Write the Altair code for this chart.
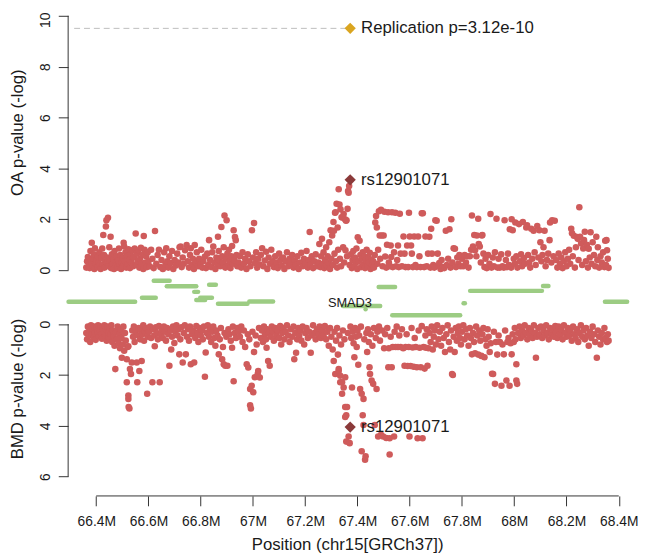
import altair as alt
import pandas as pd
import math

# ---------------- data ----------------
# OA association: (position in Mb on chr15, -log10 p)
OA_1 = [(66.362,0.10),(66.365,0.35),(66.368,0.52),(66.372,0.20),(66.375,0.08),(66.378,0.75),(66.381,0.30),(66.383,1.08),
        (66.386,0.15),(66.388,0.45),(66.391,0.62),(66.393,0.05),(66.395,0.86),(66.398,0.25),(66.401,0.40),(66.404,0.12),
        (66.406,0.55),(66.409,0.30),(66.412,0.70),(66.414,0.18),(66.417,0.05),(66.420,0.48),(66.423,0.85),(66.425,0.22),
        (66.427,1.38),(66.430,0.60),(66.432,0.10),(66.435,0.35),(66.437,1.72),(66.439,1.96),(66.441,0.28),(66.443,0.50),
        (66.445,2.06),(66.447,0.15),(66.450,0.90),(66.452,0.40),(66.455,1.31),(66.457,0.08),(66.460,0.62),(66.462,0.25),
        (66.465,0.45),(66.468,0.05),(66.470,0.75),(66.473,0.30),(66.476,0.18),(66.479,0.55),(66.481,0.10),(66.484,0.38),
        (66.487,0.85),(66.490,0.22),(66.492,0.60),(66.495,0.05),(66.498,0.30),(66.500,0.48),(66.503,0.15),(66.505,1.08),
        (66.507,0.93),(66.510,0.35),(66.512,0.70),(66.515,0.10),(66.518,0.55),(66.520,0.25),(66.523,0.82),(66.526,0.40),
        (66.529,0.08),(66.532,0.62),(66.535,0.30),(66.538,0.78),(66.541,0.15),(66.544,0.50),(66.547,0.85),(66.551,1.44),
        (66.553,0.20),(66.556,0.65),(66.559,0.35),(66.562,0.78),(66.565,0.10),(66.568,0.45),(66.571,0.88),(66.574,0.25),
        (66.577,0.60),(66.580,0.05),(66.582,1.34),(66.585,0.80),(66.588,0.30),(66.591,0.55),(66.594,0.12),(66.597,0.70)]
OA_2 = [(66.600,0.35),(66.605,0.15),(66.610,0.80),(66.615,0.45),(66.620,0.08),(66.625,1.54),(66.630,0.25),(66.635,0.60),
        (66.640,0.80),(66.645,0.12),(66.650,0.40),(66.655,0.05),(66.660,0.70),(66.665,0.22),(66.668,0.86),(66.672,0.35),
        (66.676,0.10),(66.680,0.55),(66.685,0.28),(66.690,0.75),(66.695,0.05),(66.700,0.40),(66.705,0.18),(66.710,0.65),
        (66.715,0.30),(66.719,0.90),(66.723,0.93),(66.727,0.12),(66.731,0.50),(66.735,0.25),(66.740,0.78),(66.746,0.99),
        (66.750,0.35),(66.755,0.10),(66.759,0.60),(66.762,0.86),(66.766,0.20),(66.770,0.45),(66.774,0.05),(66.777,0.99),
        (66.781,0.30),(66.785,0.70),(66.790,0.15),(66.794,0.45),(66.798,0.25),(66.802,0.80),(66.806,0.10),(66.810,0.35),
        (66.816,0.54),(66.820,0.08),(66.825,0.65),(66.829,0.20),(66.832,1.18),(66.836,0.40),(66.840,0.12),(66.844,0.70),
        (66.848,0.93),(66.852,0.30),(66.856,0.05),(66.860,0.50),(66.863,0.25),(66.866,1.31),(66.869,0.75),(66.872,0.40),
        (66.875,0.15),(66.879,1.70),(66.882,0.55),(66.885,0.30),(66.888,0.90),(66.891,2.15),(66.894,0.10),(66.897,0.45),
        (66.899,1.96),(66.902,0.65),(66.905,0.20),(66.908,0.80),(66.911,0.35),(66.914,0.08),(66.917,0.55),(66.920,0.95),
        (66.923,0.25),(66.926,1.57),(66.929,0.40),(66.931,1.30),(66.934,1.18),(66.937,0.60),(66.940,0.15)]
OA_3 = [(66.945,0.30),(66.950,0.55),(66.955,0.10),(66.960,0.70),(66.965,0.25),(66.970,0.45),(66.975,0.05),(66.980,0.62),
        (66.985,0.35),(66.990,0.15),(66.996,1.57),(67.000,0.50),(67.004,1.85),(67.008,0.28),(67.012,0.70),(67.016,0.10),
        (67.020,0.45),(67.025,0.22),(67.030,0.60),(67.035,0.86),(67.040,0.15),(67.045,0.38),(67.050,0.72),(67.055,0.05),
        (67.060,0.50),(67.065,0.25),(67.070,0.80),(67.075,0.35),(67.080,0.12),(67.085,0.55),(67.090,0.30),(67.095,0.08),
        (67.100,0.65),(67.105,0.40),(67.110,0.18),(67.115,0.50),(67.120,0.05),(67.125,0.35),(67.130,0.70),(67.135,0.15),
        (67.140,0.45),(67.145,0.25),(67.150,0.60),(67.155,0.10),(67.160,0.38),(67.165,0.20),(67.170,0.55),(67.175,0.05),
        (67.180,0.30),(67.185,0.68),(67.190,0.15),(67.195,0.45),(67.200,0.25),(67.205,0.75),(67.210,0.10),(67.214,0.40),
        (67.217,1.50),(67.220,0.20),(67.225,0.55),(67.230,0.08),(67.235,0.35),(67.240,0.62),(67.245,0.15)]
OA_4 = [(67.250,0.30),(67.254,1.03),(67.258,0.12),(67.261,0.55),(67.264,1.23),(67.267,0.25),(67.270,0.70),(67.273,0.08),
        (67.276,0.40),(67.280,0.90),(67.283,0.18),(67.286,0.55),(67.289,0.30),(67.292,1.10),(67.295,0.05),(67.297,1.57),
        (67.300,0.45),(67.303,1.36),(67.306,0.20),(67.308,1.89),(67.310,1.55),(67.312,0.65),(67.314,2.26),(67.316,2.28),
        (67.318,0.35),(67.320,2.61),(67.322,0.10),(67.324,1.68),(67.326,0.80),(67.328,3.18),(67.331,2.58),(67.333,0.45),
        (67.335,2.39),(67.337,0.15),(67.339,2.08),(67.342,2.07),(67.345,0.90),(67.347,2.21),(67.349,0.30),(67.352,2.00),
        (67.354,0.78),(67.356,1.94),(67.358,1.96),(67.360,0.55),(67.362,2.41),(67.364,3.11),(67.366,3.04),(67.368,3.31),
        (67.370,0.20),(67.375,0.62),(67.378,0.08),(67.381,0.40),(67.384,0.75),(67.387,0.15),(67.390,0.50),(67.393,0.28),
        (67.396,0.85),(67.399,0.05),(67.401,1.29),(67.404,0.35),(67.408,1.16),(67.411,0.60),(67.414,0.12),(67.417,0.45),
        (67.420,0.70),(67.423,0.22),(67.426,0.55),(67.429,0.08),(67.432,0.38),(67.435,0.80),(67.438,0.15),(67.441,0.50),
        (67.444,0.30),(67.447,0.68),(67.450,0.05),(67.453,0.42),(67.456,0.20)]
OA_5 = [(67.460,0.35),(67.463,0.10),(67.466,0.60),(67.468,1.87),(67.471,2.13),(67.474,1.68),(67.476,0.25),(67.479,0.80),
        (67.482,2.32),(67.485,1.36),(67.487,0.45),(67.490,2.37),(67.493,1.36),(67.496,0.15),(67.500,1.36),(67.503,2.30),
        (67.506,0.54),(67.510,0.10),(67.513,1.00),(67.517,2.28),(67.520,0.30),(67.524,0.15),(67.527,0.97),(67.529,0.52),
        (67.532,2.28),(67.535,0.12),(67.540,0.70),(67.545,2.26),(67.548,0.15),(67.552,0.40),(67.555,0.97),(67.558,0.12),
        (67.562,2.22),(67.565,0.65),(67.570,0.15),(67.576,1.32),(67.580,0.65),(67.584,0.12),(67.590,0.97),(67.594,0.12),
        (67.597,2.26),(67.600,1.32),(67.605,0.97),(67.608,0.65),(67.612,0.12),(67.617,1.32),(67.622,0.20),(67.627,0.12),
        (67.632,1.32),(67.637,0.55),(67.641,0.12),(67.646,2.24),(67.650,2.24),(67.655,0.12),(67.660,1.32),(67.665,0.15),
        (67.670,0.65),(67.675,1.31),(67.679,0.10),(67.682,1.63),(67.685,0.65),(67.690,0.20),(67.694,0.10),(67.698,1.96),
        (67.703,1.94),(67.707,0.65),(67.710,0.15),(67.713,0.28),(67.718,0.05),(67.722,0.40),(67.727,0.12),(67.732,0.08),
        (67.738,1.55),(67.742,0.20),(67.747,0.45),(67.752,1.61),(67.756,0.10),(67.759,2.00),(67.763,0.30),(67.768,0.86),
        (67.773,0.84),(67.777,0.12),(67.782,0.50),(67.786,0.25),(67.790,0.60),(67.795,0.15)]
OA_6 = [(67.800,0.45),(67.805,0.15),(67.810,0.60),(67.815,0.30),(67.820,0.55),(67.825,0.10),(67.830,0.55),(67.835,0.80),
        (67.838,2.15),(67.842,0.93),(67.847,1.38),(67.850,0.78),(67.855,0.55),(67.857,1.36),(67.862,2.02),(67.864,1.03),
        (67.868,0.93),(67.872,0.30),(67.876,1.36),(67.878,1.38),(67.882,0.65),(67.886,0.12),(67.890,0.45),(67.895,0.08),
        (67.900,0.60),(67.905,0.25),(67.909,2.21),(67.913,0.10),(67.918,0.50),(67.922,0.15),(67.926,0.70),(67.932,2.02),
        (67.936,0.10),(67.940,0.45),(67.945,0.10),(67.950,0.62),(67.955,0.15),(67.960,0.10),(67.963,1.96),(67.968,0.40),
        (67.972,0.12),(67.976,0.65),(67.980,0.20),(67.983,1.61),(67.988,0.10),(67.990,2.00),(67.994,1.57),(67.998,0.45),
        (68.002,0.25),(68.004,1.87),(68.008,0.55),(68.012,0.10),(68.018,1.81),(68.022,0.35),(68.026,0.62),(68.030,0.15),
        (68.033,1.89),(68.037,0.48),(68.041,0.25),(68.046,1.68),(68.049,1.76),(68.053,0.60),(68.057,0.30),(68.061,0.10),
        (68.065,1.63),(68.069,0.45),(68.074,1.55),(68.078,0.70),(68.082,0.20),(68.088,1.74),(68.092,0.50),(68.096,1.57),
        (68.100,1.10),(68.104,0.35),(68.108,0.60),(68.112,0.90),(68.116,1.55),(68.120,0.15),(68.125,0.40),(68.130,0.65),
        (68.135,1.18),(68.137,1.87),(68.142,0.30),(68.145,1.96),(68.150,0.55),(68.155,1.94)]
OA_7 = [(68.160,0.40),(68.165,0.10),(68.170,0.65),(68.175,0.25),(68.180,0.50),(68.185,0.08),(68.190,0.35),(68.195,0.70),
        (68.200,0.15),(68.205,0.45),(68.210,0.80),(68.214,0.25),(68.218,1.63),(68.221,1.45),(68.224,0.55),(68.228,1.35),
        (68.232,0.10),(68.236,0.90),(68.240,1.30),(68.243,1.23),(68.246,0.40),(68.249,2.47),(68.252,1.31),(68.256,1.05),
        (68.260,0.20),(68.264,0.85),(68.267,1.18),(68.270,1.51),(68.274,0.35),(68.278,1.00),(68.282,0.10),(68.285,0.84),
        (68.289,0.50),(68.292,1.49),(68.296,0.25),(68.300,1.10),(68.305,0.60),(68.310,0.15),(68.314,1.31),(68.318,0.40),
        (68.320,0.90),(68.325,0.10),(68.330,0.55),(68.335,0.30),(68.340,0.70),(68.345,0.12),(68.348,1.16),(68.351,0.20),
        (68.353,1.18),(68.355,0.78),(68.358,0.45),(68.361,0.09)]

# BMD association: (position in Mb, -log10 p)
BMD_1 = [(66.362,0.35),(66.365,0.60),(66.368,0.10),(66.371,0.45),(66.374,0.25),(66.377,0.70),(66.380,0.05),(66.383,0.40),
         (66.386,0.20),(66.389,0.55),(66.392,0.10),(66.395,0.35),(66.398,0.62),(66.401,0.15),(66.404,0.30),(66.407,0.05),
         (66.410,0.48),(66.413,0.22),(66.416,0.10),(66.419,0.38),(66.422,0.58),(66.425,0.12),(66.428,0.30),(66.431,0.05),
         (66.434,0.45),(66.437,0.20),(66.440,0.65),(66.443,0.10),(66.446,0.35),(66.449,0.55),(66.452,0.15),(66.455,0.40),
         (66.458,0.05),(66.461,0.70),(66.464,0.25),(66.467,0.50),(66.470,0.85),(66.473,1.77),(66.476,0.30),(66.479,0.60),
         (66.482,0.10),(66.485,0.75),(66.488,0.40),(66.491,0.95),(66.494,0.20),(66.497,0.55),(66.498,1.32),(66.501,0.80),
         (66.504,0.10),(66.507,1.05),(66.510,0.35),(66.513,0.65),(66.517,1.38),(66.517,2.29),(66.520,0.90),(66.523,0.87),
         (66.523,2.81),(66.523,2.94),(66.524,3.26),(66.527,3.32),(66.529,1.77),(66.533,1.96),(66.536,1.51),(66.538,0.25),
         (66.541,0.50),(66.544,0.10),(66.547,0.70),(66.550,0.30),(66.555,1.51),(66.557,2.29),(66.560,0.45),(66.563,0.15),
         (66.565,1.84),(66.568,0.60),(66.571,0.25),(66.574,1.45),(66.577,0.40),(66.580,0.05),(66.583,0.65),(66.586,0.30),
         (66.590,0.15),(66.595,2.74),(66.598,0.50)]
BMD_2 = [(66.602,0.30),(66.606,0.10),(66.610,0.55),(66.615,2.29),(66.618,0.20),(66.622,0.45),(66.624,0.87),(66.628,0.12),
         (66.632,0.35),(66.636,0.60),(66.640,0.08),(66.643,2.29),(66.647,0.40),(66.651,0.20),(66.655,0.55),(66.659,0.10),
         (66.663,0.30),(66.667,0.65),(66.671,0.15),(66.676,0.40),(66.680,1.64),(66.684,0.25),(66.687,1.00),(66.690,0.50),
         (66.694,0.10),(66.699,0.74),(66.703,0.30),(66.707,0.05),(66.711,0.45),(66.715,0.20),(66.718,1.19),(66.722,0.60),
         (66.726,0.12),(66.731,1.51),(66.735,0.35),(66.739,0.05),(66.743,1.19),(66.747,0.50),(66.751,0.20),(66.755,0.65),
         (66.759,0.10),(66.762,1.58),(66.766,0.40),(66.770,0.25),(66.775,1.51),(66.779,0.55),(66.783,0.08),(66.787,0.35),
         (66.791,0.70),(66.795,0.15),(66.800,0.45),(66.804,0.25),(66.808,0.60),(66.812,0.10),(66.816,2.07),(66.819,1.12),
         (66.823,0.35),(66.827,0.05),(66.831,0.50),(66.835,0.20),(66.840,0.70),(66.844,0.30),(66.848,0.10),(66.852,0.55),
         (66.856,0.85),(66.860,0.25),(66.864,0.45),(66.869,1.19),(66.873,0.60),(66.877,0.15),(66.882,1.38),(66.885,0.90),
         (66.888,1.58),(66.891,0.35),(66.894,1.64),(66.898,0.50),(66.902,1.64),(66.906,0.20),(66.910,0.40),(66.915,0.65),
         (66.920,0.93),(66.923,0.10),(66.926,2.25),(66.930,0.35),(66.935,0.55),(66.940,0.15),(66.945,0.30)]
BMD_3 = [(66.950,0.50),(66.955,0.10),(66.960,0.70),(66.965,0.25),(66.970,0.90),(66.976,1.58),(66.980,0.40),(66.982,1.71),
         (66.986,0.60),(66.989,2.55),(66.989,3.19),(66.992,3.32),(66.995,2.42),(66.998,0.30),(67.001,2.68),(67.004,1.10),
         (67.007,2.09),(67.010,0.45),(67.014,0.80),(67.018,1.96),(67.020,1.84),(67.023,0.15),(67.026,2.10),(67.030,0.55),
         (67.034,0.25),(67.038,0.70),(67.042,0.10),(67.046,0.40),(67.050,0.60),(67.052,0.93),(67.055,0.20),(67.058,1.45),
         (67.061,0.35),(67.064,1.64),(67.068,0.50),(67.072,0.10),(67.076,0.30),(67.080,0.65),(67.085,0.15),(67.090,0.45),
         (67.095,0.25),(67.100,0.55),(67.104,0.08),(67.108,0.80),(67.112,0.35),(67.116,0.15),(67.120,0.60),(67.125,0.30),
         (67.130,0.05),(67.135,0.45),(67.140,0.70),(67.145,0.20),(67.150,0.50),(67.155,0.10),(67.158,1.38),(67.162,0.35),
         (67.165,1.13),(67.169,0.60),(67.173,0.15),(67.177,0.45),(67.181,0.25),(67.185,0.65),(67.190,0.10),(67.196,0.80),
         (67.200,0.35),(67.205,0.15),(67.210,0.55),(67.215,0.30),(67.221,1.13),(67.225,0.45),(67.230,0.05),(67.235,0.35),
         (67.240,0.60),(67.245,0.20),(67.250,0.40),(67.255,0.10),(67.260,0.55),(67.265,0.25),(67.270,0.45),(67.275,0.08),
         (67.280,0.60),(67.285,0.30),(67.290,0.85),(67.295,0.15),(67.300,0.50),(67.305,1.00)]
BMD_4 = [(67.309,1.45),(67.312,0.30),(67.315,1.96),(67.318,0.65),(67.322,0.15),(67.325,1.20),(67.328,1.77),(67.328,1.84),
         (67.331,0.45),(67.334,2.03),(67.334,2.29),(67.337,0.80),(67.341,2.29),(67.341,2.74),(67.344,0.25),(67.347,2.49),
         (67.350,0.60),(67.353,2.09),(67.353,3.26),(67.353,3.65),(67.357,3.58),(67.357,4.62),(67.360,3.26),(67.363,0.35),
         (67.366,4.42),(67.370,4.68),(67.373,0.10),(67.376,0.55),(67.379,2.49),(67.382,0.30),(67.385,0.75),(67.388,1.30),
         (67.391,0.15),(67.394,0.50),(67.397,0.90),(67.400,0.25),(67.403,1.60),(67.406,0.45),(67.410,2.55),(67.413,0.10),
         (67.416,2.74),(67.416,5.00),(67.420,3.58),(67.423,2.94),(67.423,3.97),(67.426,0.60),(67.429,5.33),(67.431,5.20),
         (67.434,0.35),(67.437,1.10),(67.440,0.20),(67.443,0.70),(67.446,1.70),(67.448,1.96),(67.451,0.40),(67.454,2.22),
         (67.457,0.85),(67.460,2.35),(67.463,0.15),(67.466,3.97),(67.470,0.55),(67.473,2.55)]
BMD_5 = [(67.476,0.30),(67.479,4.42),(67.482,0.10),(67.486,0.65),(67.490,4.35),(67.494,0.25),(67.498,4.42),(67.502,0.95),
         (67.506,0.40),(67.510,4.48),(67.514,0.15),(67.518,1.70),(67.520,0.95),(67.523,4.49),(67.523,5.13),(67.527,0.50),
         (67.531,1.70),(67.535,0.90),(67.540,4.42),(67.542,0.30),(67.546,0.90),(67.550,0.10),(67.555,0.90),(67.560,0.45),
         (67.565,0.90),(67.570,0.20),(67.575,0.95),(67.580,1.64),(67.584,0.90),(67.588,0.40),(67.592,1.65),(67.596,0.90),
         (67.599,4.42),(67.603,1.65),(67.607,0.15),(67.611,0.92),(67.615,1.68),(67.619,0.55),(67.623,0.90),(67.627,1.70),
         (67.630,4.49),(67.634,0.25),(67.638,0.93),(67.642,1.70),(67.646,0.08),(67.649,4.49),(67.653,0.90),(67.657,1.75),
         (67.660,0.45),(67.662,0.93),(67.665,0.20),(67.668,1.64),(67.672,0.95),(67.676,0.35),(67.680,0.70),(67.684,0.10),
         (67.688,1.00),(67.692,0.50),(67.696,0.25),(67.700,0.80),(67.705,0.05),(67.710,0.60),(67.715,0.30),(67.720,0.85),
         (67.725,0.15),(67.730,0.55),(67.735,1.10),(67.740,0.40),(67.745,0.05),(67.750,0.70),(67.755,1.00),(67.758,0.25),
         (67.762,1.96),(67.765,2.00),(67.768,0.50),(67.772,1.10),(67.776,0.15),(67.780,0.65),(67.784,0.35),(67.788,0.10),
         (67.792,0.55),(67.796,0.80)]
BMD_6 = [(67.800,0.30),(67.805,0.05),(67.810,0.60),(67.815,0.20),(67.820,0.45),(67.825,0.85),(67.830,0.15),(67.834,0.55),
         (67.838,1.19),(67.842,0.35),(67.846,0.70),(67.850,1.15),(67.854,0.10),(67.858,0.45),(67.862,1.20),(67.866,0.25),
         (67.870,0.65),(67.874,1.25),(67.878,0.40),(67.882,0.15),(67.886,1.30),(67.890,0.60),(67.894,0.85),(67.898,0.20),
         (67.902,0.50),(67.906,1.10),(67.910,0.75),(67.915,1.95),(67.919,1.96),(67.922,0.30),(67.926,2.35),(67.930,0.70),
         (67.935,1.20),(67.940,0.45),(67.945,0.70),(67.951,2.42),(67.955,0.80),(67.960,1.19),(67.965,0.25),(67.970,2.22),
         (67.974,0.70),(67.978,0.55),(67.982,2.42),(67.986,0.75),(67.990,1.19),(67.994,0.40),(67.998,0.70),(68.002,0.15),
         (68.005,0.60),(68.008,1.58),(68.008,2.22),(68.011,2.35),(68.015,0.35),(68.020,0.10),(68.025,0.55),(68.030,0.25),
         (68.035,0.45),(68.040,0.05),(68.045,0.35),(68.050,0.60),(68.055,0.15),(68.060,0.40),(68.065,0.25),(68.070,0.55),
         (68.075,0.05),(68.080,0.35),(68.083,1.32),(68.087,0.50),(68.092,0.15),(68.097,0.40),(68.102,0.10),(68.107,0.55),
         (68.112,0.25),(68.117,0.45),(68.122,0.05),(68.127,0.35),(68.132,0.60),(68.137,0.15),(68.142,0.40),(68.147,0.20),
         (68.152,0.50),(68.157,0.08)]
BMD_7 = [(68.160,0.30),(68.165,0.55),(68.170,0.10),(68.175,0.40),(68.180,0.20),(68.185,0.60),(68.190,0.05),(68.195,0.35),
         (68.200,0.50),(68.205,0.15),(68.210,0.45),(68.215,0.25),(68.220,0.65),(68.225,0.10),(68.230,0.40),(68.235,0.55),
         (68.240,0.20),(68.245,0.70),(68.250,0.35),(68.255,0.05),(68.260,0.50),(68.265,0.25),(68.270,0.60),(68.275,0.15),
         (68.280,0.45),(68.285,0.85),(68.290,0.30),(68.295,0.55),(68.300,0.10),(68.305,0.40),(68.310,0.70),(68.316,1.32),
         (68.320,0.25),(68.325,0.50),(68.330,0.80),(68.335,0.35),(68.340,0.60),(68.345,0.15),(68.350,0.55),(68.355,0.70),
         (68.358,0.40),(68.361,0.65)]

OA_POINTS = OA_1 + OA_2 + OA_3 + OA_4 + OA_5 + OA_6 + OA_7
BMD_POINTS = BMD_1 + BMD_2 + BMD_3 + BMD_4 + BMD_5 + BMD_6 + BMD_7

LEAD_SNP = "rs12901071"
LEAD_POS = 67.372
LEAD_OA = 3.55
LEAD_BMD = 4.05
REPL_P = 3.12e-10
REPL_LABEL = "Replication p=3.12e-10"
REPL_LINE_FROM = 66.3155
REPL_LINE_TO = 67.36

# gene track: (start Mb, end Mb, stacking row)
GENES = [(66.294, 66.549, 26.0), (66.575, 66.628, 22.0), (66.620, 66.681, 4.7), (66.670, 66.783, 10.3),
         (66.775, 66.790, 16.0), (66.832, 66.858, 8.7), (66.783, 66.817, 24.3), (66.798, 66.843, 22.0),
         (66.866, 66.979, 28.0), (66.986, 67.077, 25.7), (67.344, 67.487, 30.3), (67.431, 67.431, 33.7),
         (67.481, 67.544, 11.0), (67.533, 67.793, 39.7), (67.831, 68.106, 15.0), (68.110, 68.131, 10.0),
         (67.806, 67.811, 27.5), (68.347, 68.432, 26.0)]
GENE_LABEL = "SMAD3"
GENE_LABEL_POS = 67.371
GENE_LABEL_ROW = 27.0

X_TICKS = [66.4, 66.6, 66.8, 67, 67.2, 67.4, 67.6, 67.8, 68, 68.2, 68.4]
OA_TICKS = [0, 2, 4, 6, 8, 10]
BMD_TICKS = [0, 2, 4, 6]

# ---------------- styling ----------------
FONT = "Liberation Sans"
PT = "#CF5B5B"
LEAD = "#8B3A3A"
GOLD = "#DAA520"
GREEN = "#9CCC83"
AX = "#333333"
TXT = "#1a1a1a"
PT_SIZE = 44

XMIN, XMAX = 66.2925, 68.4283
W = 566
xs = alt.Scale(domain=[XMIN, XMAX], nice=False, zero=False)
OA_DOM = [-0.233, 10]
BMD_DOM = [-0.182, 6.756]
ys_top = alt.Scale(domain=OA_DOM, nice=False, zero=False)
ys_bot = alt.Scale(domain=BMD_DOM, nice=False, zero=False, reverse=True)
ys_gene = alt.Scale(domain=[0, 42], nice=False, zero=False, reverse=True)

yax = dict(domain=False, grid=False, tickSize=10, tickColor=AX, tickWidth=1,
           labelAngle=270, labelAlign="center", labelBaseline="bottom", labelPadding=6,
           labelFontSize=14, labelFont=FONT, labelColor=TXT,
           titleFontSize=17, titleFont=FONT, titleFontWeight="normal", titleColor=TXT, titlePadding=12)

oa_df = pd.DataFrame(OA_POINTS, columns=["pos", "val"])
bmd_df = pd.DataFrame(BMD_POINTS, columns=["pos", "val"])
repl_val = -math.log10(REPL_P)

# ---- top panel (OA) ----
top_pts = alt.Chart(oa_df).mark_circle(size=PT_SIZE, opacity=1, color=PT).encode(
    x=alt.X("pos:Q", scale=xs, axis=None),
    y=alt.Y("val:Q", scale=ys_top,
            axis=alt.Axis(values=OA_TICKS, title="OA p-value (-log)", titleY=118,
                          labelOffset={"condition": {"test": "datum.value === 10", "value": 4}, "value": 0},
                          **yax)),
)
top_axis_df = pd.DataFrame({"pos": [XMIN], "val": [OA_TICKS[0]], "v1": [OA_TICKS[-1]]})
top_axis = alt.Chart(top_axis_df).mark_rule(color=AX, strokeWidth=1).encode(
    x=alt.X("pos:Q", scale=xs, axis=None), y=alt.Y("val:Q", scale=ys_top), y2="v1:Q")
repl_df = pd.DataFrame({"pos": [REPL_LINE_FROM], "p1": [REPL_LINE_TO], "val": [repl_val]})
repl_line = alt.Chart(repl_df).mark_rule(color="#BDBDBD", strokeWidth=1, strokeDash=[6, 4]).encode(
    x=alt.X("pos:Q", scale=xs, axis=None), x2="p1:Q", y=alt.Y("val:Q", scale=ys_top))
top_marks = pd.DataFrame({"pos": [LEAD_POS, LEAD_POS], "val": [LEAD_OA, repl_val],
                          "lab": [LEAD_SNP, REPL_LABEL], "kind": ["lead", "repl"]})
top_dia = alt.Chart(top_marks).mark_point(shape="diamond", filled=True, size=130, opacity=1).encode(
    x=alt.X("pos:Q", scale=xs, axis=None), y=alt.Y("val:Q", scale=ys_top),
    color=alt.Color("kind:N", scale=alt.Scale(domain=["lead", "repl"], range=[LEAD, GOLD]), legend=None))
top_txt = alt.Chart(top_marks).mark_text(align="left", baseline="middle", dx=11, fontSize=17,
                                         font=FONT, color=TXT).encode(
    x=alt.X("pos:Q", scale=xs, axis=None), y=alt.Y("val:Q", scale=ys_top), text="lab:N")
top = alt.layer(top_pts, top_axis, repl_line, top_dia, top_txt).properties(width=W, height=264)

# ---- gene track ----
gene_df = pd.DataFrame(GENES, columns=["start", "end", "row"])
genes = alt.Chart(gene_df).mark_rule(strokeWidth=4.5, strokeCap="round", color=GREEN).encode(
    x=alt.X("start:Q", scale=xs, axis=None), x2="end:Q",
    y=alt.Y("row:Q", scale=ys_gene, axis=None))
gene_lab_df = pd.DataFrame({"start": [GENE_LABEL_POS], "row": [GENE_LABEL_ROW], "lab": [GENE_LABEL]})
gene_txt = alt.Chart(gene_lab_df).mark_text(
    fontSize=13, font=FONT, color=TXT, baseline="middle", align="center").encode(
    x=alt.X("start:Q", scale=xs, axis=None), y=alt.Y("row:Q", scale=ys_gene, axis=None), text="lab:N")
mid = alt.layer(genes, gene_txt).properties(width=W, height=42)

# ---- bottom panel (BMD) ----
xaxis_bot = alt.Axis(values=X_TICKS, labelExpr="datum.value + 'M'", domain=False, grid=False,
                     tickSize=10, tickColor=AX, tickWidth=1, labelPadding=9, labelFlush=False,
                     labelOverlap=False, labelFontSize=14, labelFont=FONT, labelColor=TXT,
                     title="Position (chr15[GRCh37])", titleFontSize=17, titleFont=FONT,
                     titleFontWeight="normal", titleColor=TXT, titlePadding=8)
bot_pts = alt.Chart(bmd_df).mark_circle(size=PT_SIZE, opacity=1, color=PT).encode(
    x=alt.X("pos:Q", scale=xs, axis=xaxis_bot),
    y=alt.Y("val:Q", scale=ys_bot,
            axis=alt.Axis(values=BMD_TICKS, title="BMD p-value (-log)", titleY=70, **yax)),
)
bot_yaxis_df = pd.DataFrame({"pos": [XMIN], "val": [BMD_TICKS[0]], "v1": [BMD_TICKS[-1]]})
bot_yaxis = alt.Chart(bot_yaxis_df).mark_rule(color=AX, strokeWidth=1).encode(
    x=alt.X("pos:Q", scale=xs), y=alt.Y("val:Q", scale=ys_bot), y2="v1:Q")
bot_xaxis_df = pd.DataFrame({"pos": [X_TICKS[0]], "p1": [X_TICKS[-1]], "val": [BMD_DOM[1]]})
bot_xaxis = alt.Chart(bot_xaxis_df).mark_rule(color=AX, strokeWidth=1).encode(
    x=alt.X("pos:Q", scale=xs), x2="p1:Q", y=alt.Y("val:Q", scale=ys_bot))
bot_marks = pd.DataFrame({"pos": [LEAD_POS], "val": [LEAD_BMD], "lab": [LEAD_SNP]})
bot_dia = alt.Chart(bot_marks).mark_point(shape="diamond", filled=True, size=130, opacity=1, color=LEAD).encode(
    x=alt.X("pos:Q", scale=xs), y=alt.Y("val:Q", scale=ys_bot))
bot_txt = alt.Chart(bot_marks).mark_text(align="left", baseline="middle", dx=11, fontSize=17,
                                         font=FONT, color=TXT).encode(
    x=alt.X("pos:Q", scale=xs), y=alt.Y("val:Q", scale=ys_bot), text="lab:N")
bot = alt.layer(bot_pts, bot_yaxis, bot_xaxis, bot_dia, bot_txt).properties(width=W, height=179)

chart = alt.vconcat(top, mid, bot, spacing=0).properties(
    padding={"left": 0, "top": 0, "right": 0, "bottom": 0}
).configure(background="white").configure_view(stroke=None, strokeWidth=0)

chart.save("out.html", embed_options={"renderer": "svg", "actions": False})
